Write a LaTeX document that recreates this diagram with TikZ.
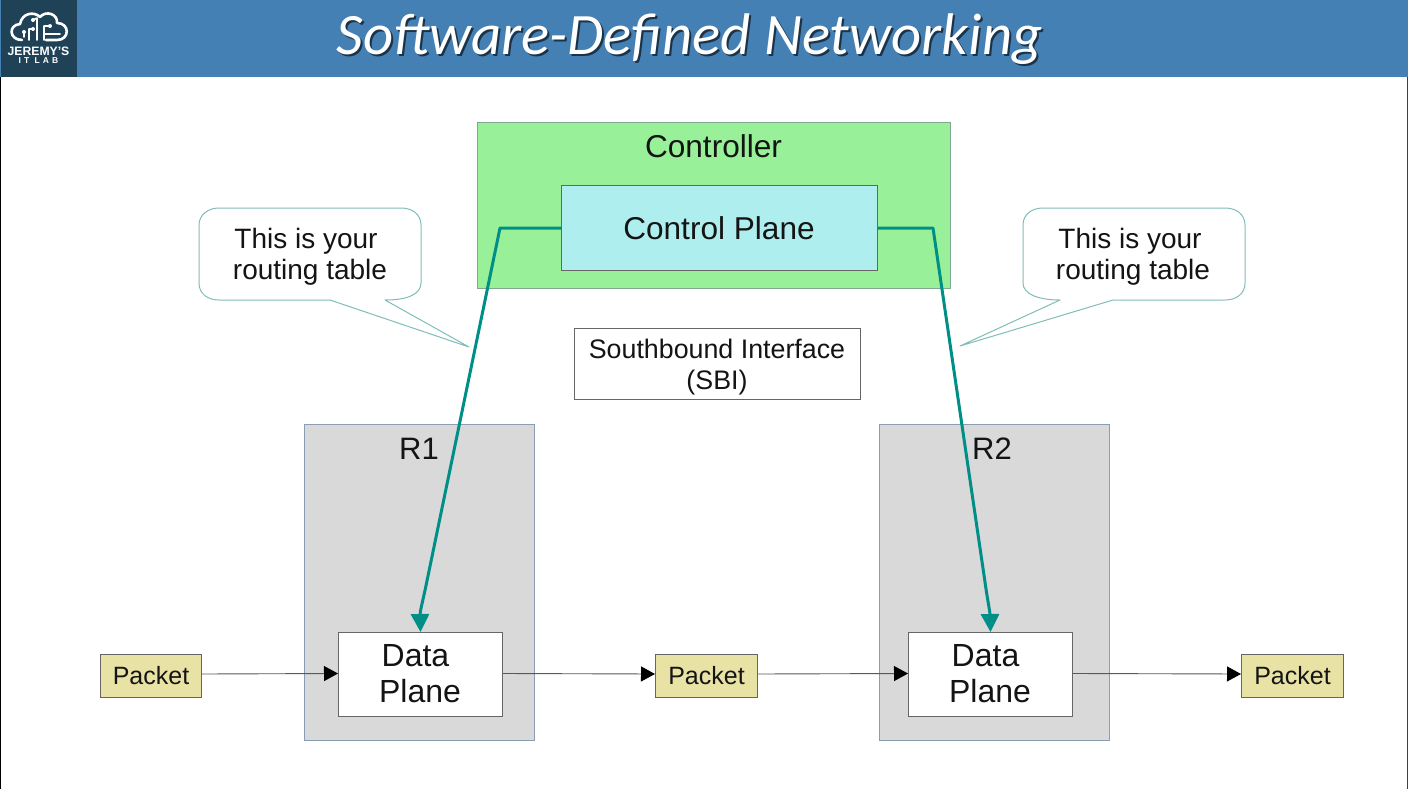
\documentclass[tikz,border=0pt]{standalone}
\usepackage{fontspec}
\setmainfont{Liberation Sans}
\newfontfamily\titlefont{Carlito}
\usetikzlibrary{arrows.meta}
\definecolor{hdr}{HTML}{4480B4}
\definecolor{logobg}{HTML}{1F4257}
\definecolor{ctrl}{HTML}{98F198}
\definecolor{cplane}{HTML}{AEEEEE}
\definecolor{router}{HTML}{D9D9D9}
\definecolor{pkt}{HTML}{E8E2A4}
\definecolor{teal}{HTML}{008F87}
\definecolor{callout}{HTML}{80BDB8}
\definecolor{rborder}{HTML}{8A9DB5}
\definecolor{gborder}{HTML}{7FA88F}
\newcommand{\fs}[2]{\fontsize{#1}{#2}\selectfont}
\newcommand{\tailpad}[1]{\rule{#1}{0pt}}
\tikzset{
  x=1pt,y=-1pt,
  box/.style={draw=#1,line width=1pt,inner sep=0pt,anchor=north west},
  lbl/.style={inner sep=0pt,align=center,text=black!92},
  push/.style={draw=teal,line width=3pt,-{Triangle[width=18pt,length=18pt]},line join=round},
  flow/.style={draw=black!65,line width=0.9pt,-{Triangle[width=15pt,length=14pt,color=black,fill=black]}},
  bubble/.style={draw=callout,line width=1pt,fill=white,line join=round},
  circuit/.style={line width=1.6pt},
  cdot/.style={fill=white,draw=none},
}
\begin{document}
\begin{tikzpicture}
\useasboundingbox (0,0) rectangle (1408,789);
\fill[white] (0,0) rectangle (1408,789);
% screen edges
\fill[black] (0,0) rectangle (1,789);
\fill[black!75] (1407,77) rectangle (1408,789);
% header
\fill[hdr] (0,0) rectangle (1408,77);
\fill[logobg] (1,0) rectangle (77,77);
\begin{scope}[draw=white,line width=2.6pt,line cap=round,line join=round]
\draw (22,40) .. controls (9,40) and (8,25) .. (20,24) .. controls (22,13) and (34,11) .. (40,17) .. controls (46,10) and (58,14) .. (57,23) .. controls (70,23) and (70,40) .. (57,40) -- (46,40);
\draw[circuit] (24,37) -- (24,33) (29,40) -- (29,29) -- (33,29) (37,40) -- (37,18) -- (33,20) (44,40) -- (44,26) -- (50,26) (44,34) -- (60,34);
\fill[cdot] (24,32) circle (2pt) (33,29) circle (2pt) (33,20) circle (2pt) (50,26) circle (2pt);
\end{scope}
\node[lbl,text=white,font=\bfseries\fs{12.2}{12}] (logoa) at (38.5,51) {JEREMY'S};
\node[lbl,text=white,font=\bfseries\fs{8.5}{8}] (logob) at (38.5,60.5) {\addfontfeature{LetterSpace=36}IT LAB};
\node[lbl,text=black!60!hdr,font=\titlefont\itshape\fs{58.7}{59}] (titleshadow) at (691.5,41) {Software-Defined Networking};
\node[lbl,text=white,font=\titlefont\itshape\fs{58.7}{59}] (title) at (689.5,39) {Software-Defined Networking};
% controller
\draw[draw=gborder,line width=0.8pt,fill=ctrl] (477,122) rectangle (950,288);
\node[lbl,font=\fs{31.6}{36}] (controller) at (713.5,146) {Controller};
\node[box=black!60,fill=cplane,minimum width=316pt,minimum height=85pt] (cp) at (561,185) {};
\node[lbl,font=\fs{31.6}{36}] (cptext) at (719,228) {Control Plane};
% callouts
\draw[bubble] (219,208) -- (401,208) .. controls (413,208) and (421,215) .. (421,225) -- (421,283) .. controls (421,294) and (408,300) .. (385,300) -- (469,347) -- (330,300) -- (219,300) .. controls (208,300) and (199,294) .. (199,283) -- (199,225) .. controls (199,215) and (208,208) .. (219,208) -- cycle;
\node[lbl,font=\fs{28}{31}] (ca) at (310,257) {This is your\tailpad{8pt}\\routing table};
\draw[bubble] (1043,208) -- (1225,208) .. controls (1237,208) and (1245,215) .. (1245,225) -- (1245,283) .. controls (1245,294) and (1236,300) .. (1225,300) -- (1113,300) -- (960,346) -- (1060,300) .. controls (1038,300) and (1023,294) .. (1023,283) -- (1023,225) .. controls (1023,215) and (1031,208) .. (1043,208) -- cycle;
\node[lbl,font=\fs{28}{31}] (cb) at (1133,257) {This is your\tailpad{6pt}\\routing table};
% SBI
\node[box=black!60,fill=white,minimum width=286pt,minimum height=71pt] (sbi) at (574,328) {};
\node[lbl,font=\fs{26.8}{30.5}] (sbit) at (717,367) {Southbound Interface\\(SBI)};
% routers
\node[box=rborder,fill=router,minimum width=230pt,minimum height=316pt] (r1) at (304,424) {};
\node[box=rborder,fill=router,minimum width=230pt,minimum height=316pt] (r2) at (879,424) {};
\node[lbl,font=\fs{31}{36}] (r1t) at (419,449) {R1};
\node[lbl,font=\fs{31}{36}] (r2t) at (992,449) {R2};
\node[box=black!60,fill=white,minimum width=164pt,minimum height=84pt] (dp1) at (338,632) {};
\node[box=black!60,fill=white,minimum width=164pt,minimum height=84pt] (dp2) at (908,632) {};
\node[lbl,font=\fs{32}{36}] (dp1t) at (420,674) {Data\tailpad{9pt}\\Plane};
\node[lbl,font=\fs{32}{36}] (dp2t) at (990,674) {Data\tailpad{9pt}\\Plane};
% packets
\node[box=black!60,fill=pkt,minimum width=101pt,minimum height=43pt] (p1) at (100,654) {};
\node[box=black!60,fill=pkt,minimum width=102pt,minimum height=43pt] (p2) at (655,654) {};
\node[box=black!60,fill=pkt,minimum width=102pt,minimum height=43pt] (p3) at (1241,654) {};
\node[lbl,font=\fs{25}{30}] (p1t) at (p1) {Packet};
\node[lbl,font=\fs{25}{30}] (p2t) at (p2) {Packet};
\node[lbl,font=\fs{25}{30}] (p3t) at (p3) {Packet};
% connectors
\coordinate (la) at (500,228);
\coordinate (lb) at (425.5,588);
\coordinate (ra) at (933,228);
\coordinate (rb) at (985,582);
\draw[push] (cp.west) -- (la) -- (lb) .. controls (422,604) and (420,612) .. (dp1.north);
\draw[push] (cp.east) -- (ra) -- (rb) .. controls (987.5,600) and (990,612) .. (dp2.north);
\draw[flow] ([yshift=2pt]p1.east) -- ([yshift=1pt]dp1.west);
\draw[flow] ([yshift=1pt]dp1.east) -- ([yshift=2pt]p2.west);
\draw[flow] ([yshift=2pt]p2.east) -- ([yshift=1pt]dp2.west);
\draw[flow] ([yshift=1pt]dp2.east) -- ([yshift=2pt]p3.west);
\end{tikzpicture}
\end{document}
